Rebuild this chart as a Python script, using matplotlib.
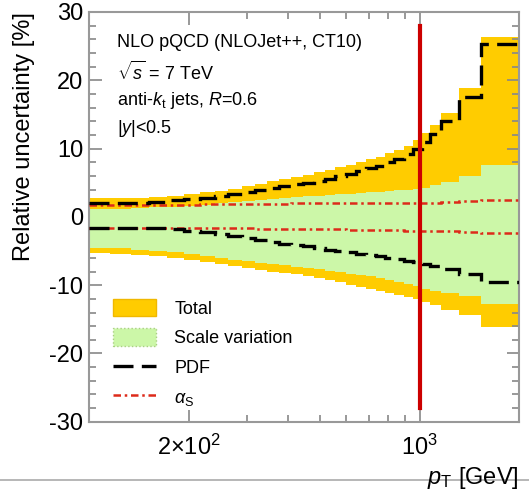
import matplotlib
matplotlib.use("Agg")
import matplotlib.pyplot as plt
from matplotlib.patches import Patch
from matplotlib.lines import Line2D
from matplotlib.ticker import FixedLocator, NullFormatter, MultipleLocator

plt.rcParams['font.family'] = ['Liberation Sans', 'DejaVu Sans']
plt.rcParams['mathtext.fontset'] = 'custom'
plt.rcParams['mathtext.rm'] = 'Liberation Sans'
plt.rcParams['mathtext.it'] = 'Liberation Sans:italic'
plt.rcParams['mathtext.bf'] = 'Liberation Sans:bold'
plt.rcParams['axes.unicode_minus'] = False

# bin edges in pT [GeV]
pt_edges = [100, 116, 134, 152, 172, 194, 216, 240, 264, 290, 318, 346, 376, 408,
            442, 478, 516, 556, 598, 642, 688, 736, 786, 838, 894, 952, 1012,
            1076, 1162, 1310, 1530, 1992]

# relative uncertainties [%] per bin
total_up = [2.7, 2.7, 2.8, 2.9, 3.1, 3.3, 3.6, 3.8, 4.1, 4.5, 4.8, 5.2, 5.5, 5.9,
            6.2, 6.5, 6.9, 7.3, 7.6, 8.0, 8.4, 8.8, 9.3, 9.8, 10.4, 11.2, 12.3,
            13.4, 15.2, 18.8, 26.4]
total_lo = [-5.3, -5.4, -5.6, -5.8, -6.0, -6.3, -6.6, -6.9, -7.2, -7.5, -7.8, -8.0,
            -8.2, -8.4, -8.7, -9.0, -9.3, -9.6, -9.9, -10.2, -10.5, -10.8, -11.1,
            -11.4, -11.7, -12.0, -12.5, -12.9, -13.6, -14.4, -16.1]
scale_up = [1.2, 1.2, 1.3, 1.4, 1.5, 1.6, 1.8, 2.0, 2.2, 2.3, 2.5, 2.6, 2.8, 2.9,
            3.0, 3.1, 3.2, 3.3, 3.4, 3.5, 3.6, 3.7, 3.8, 3.9, 4.0, 4.1, 4.3, 4.6,
            5.1, 6.0, 7.6]
scale_lo = [-4.5, -4.6, -4.8, -5.0, -5.2, -5.5, -5.8, -6.0, -6.3, -6.5, -6.7, -6.9,
            -7.1, -7.3, -7.5, -7.7, -7.9, -8.1, -8.3, -8.5, -8.7, -8.9, -9.2, -9.5,
            -9.8, -10.1, -10.5, -10.9, -11.2, -11.6, -12.8]
pdf_up = [2.0, 2.0, 2.1, 2.2, 2.4, 2.6, 2.8, 3.0, 3.3, 3.6, 3.9, 4.2, 4.5, 4.8,
          5.0, 5.3, 5.6, 6.0, 6.3, 6.7, 7.1, 7.5, 8.0, 8.5, 9.2, 10.0, 11.0, 12.2,
          14.0, 17.5, 25.3]
pdf_lo = [-1.6, -1.6, -1.6, -1.7, -1.8, -2.0, -2.2, -2.5, -2.8, -3.1, -3.4, -3.7,
          -3.9, -4.1, -4.3, -4.5, -4.8, -5.0, -5.2, -5.4, -5.6, -5.8, -6.0, -6.2,
          -6.4, -6.6, -6.9, -7.2, -7.6, -8.3, -9.6]
as_up = [1.8, 1.8, 1.8, 1.8, 1.8, 1.8, 1.9, 1.9, 1.9, 1.9, 1.9, 1.9, 1.9, 2.0,
         2.0, 2.0, 2.0, 2.0, 2.0, 2.0, 2.0, 2.0, 2.0, 2.0, 2.0, 2.1, 2.1, 2.1,
         2.2, 2.3, 2.4]
as_lo = [-1.6, -1.6, -1.6, -1.6, -1.6, -1.7, -1.7, -1.7, -1.7, -1.7, -1.8, -1.8,
         -1.8, -1.8, -1.8, -1.8, -1.8, -1.8, -1.9, -1.9, -1.9, -1.9, -1.9, -1.9,
         -2.0, -2.0, -2.0, -2.1, -2.1, -2.2, -2.3]

fig = plt.figure(figsize=(5.29, 4.98), dpi=100)
ax = fig.add_axes([0.168, 0.153, 0.813, 0.823])

yellow = '#ffcc00'
green = '#ccf7a8'
red = '#dd2a1a'
as_style = (0, (3, 1.5, 1, 1.5))
pdf_style = (0, (6, 2.5))

ax.stairs(total_up, pt_edges, baseline=total_lo, fill=True, color=yellow, zorder=1)
ax.stairs(scale_up, pt_edges, baseline=scale_lo, fill=True, color=green, zorder=2)
ax.stairs(as_up, pt_edges, baseline=None, color=red, lw=1.8, linestyle=as_style, zorder=3)
ax.stairs(as_lo, pt_edges, baseline=None, color=red, lw=1.8, linestyle=as_style, zorder=3)
ax.stairs(pdf_up, pt_edges, baseline=None, color='black', lw=2.4, linestyle=pdf_style, zorder=4)
ax.stairs(pdf_lo, pt_edges, baseline=None, color='black', lw=2.4, linestyle=pdf_style, zorder=4)

# vertical marker at 1 TeV
ax.plot([1000, 1000], [-28, 28], color='#cc0000', lw=3, zorder=5)

ax.set_xscale('log')
ax.set_xlim(100, 1992)
ax.set_ylim(-30, 30)

ax.xaxis.set_major_locator(FixedLocator([200, 1000]))
ax.set_xticklabels([r'2$\times$10$^{2}$', r'10$^{3}$'])
ax.xaxis.set_minor_locator(FixedLocator([300, 400, 500, 600, 700, 800, 900]))
ax.xaxis.set_minor_formatter(NullFormatter())
ax.yaxis.set_major_locator(MultipleLocator(10))
ax.yaxis.set_minor_locator(MultipleLocator(2))

ax.tick_params(which='both', direction='in', top=True, right=True, colors='#888888',
               labelcolor='black', labelsize=17)
ax.tick_params(which='major', length=9, width=1.2)
ax.tick_params(which='minor', length=5, width=1.2)
ax.tick_params(axis='x', which='major', pad=9)
ax.tick_params(axis='y', which='major', pad=4)
for s in ax.spines.values():
    s.set_color('#999999')
    s.set_linewidth(1.5)

ax.set_ylabel('Relative uncertainty [%]', fontsize=17, loc='top', labelpad=10)
ax.set_xlabel(r'$p_{\rm T}$ [GeV]', fontsize=17, loc='right', labelpad=4)

txt = dict(transform=ax.transAxes, fontsize=13, va='center', ha='left')
ax.text(0.065, 0.925, 'NLO pQCD (NLOJet++, CT10)', **txt)
ax.text(0.065, 0.853, r'$\sqrt{s}$ = 7 TeV', **txt)
ax.text(0.065, 0.785, r'anti-$k_{\rm t}$ jets, $R$=0.6', **txt)
ax.text(0.065, 0.716, r'|$y$|<0.5', **txt)

handles = [Patch(facecolor=yellow, edgecolor='#f0b800'),
           Patch(facecolor=green, edgecolor='#a8d080', linestyle=':'),
           Line2D([], [], color='black', lw=2.4, linestyle=pdf_style),
           Line2D([], [], color=red, lw=1.8, linestyle=as_style)]
labels = ['Total', 'Scale variation', 'PDF', r'$\alpha_{\rm S}$']
ax.legend(handles, labels, loc='upper left', bbox_to_anchor=(0.056, 0.30),
          frameon=False, fontsize=13, handlelength=2.4, handleheight=1.1,
          handletextpad=1.0, labelspacing=0.6, borderpad=0, borderaxespad=0)

# grey rule across the bottom of the page
fig.add_artist(Line2D([0, 1], [0.036, 0.036], color='#aaaaaa', lw=1.2,
                      transform=fig.transFigure, zorder=0))

fig.savefig('out.png', dpi=100)
